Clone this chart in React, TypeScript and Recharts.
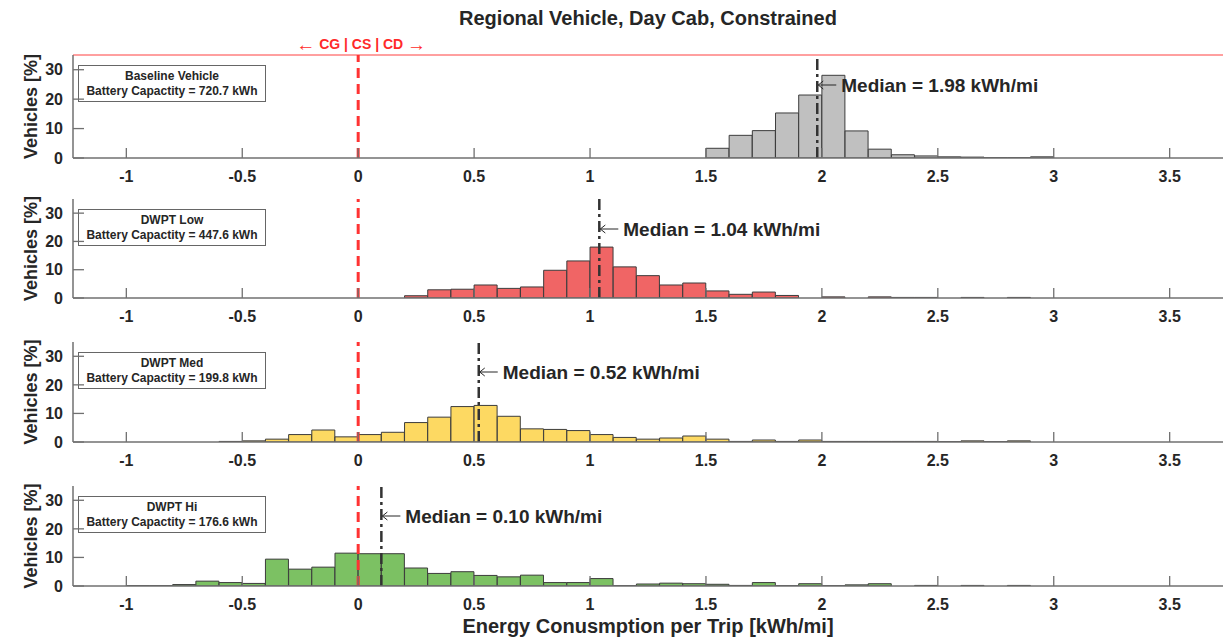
import React from "react";
import { Bar, ComposedChart, ReferenceLine, XAxis, YAxis } from "recharts";

const FONT = '"Liberation Sans", Arial, sans-serif';

// histogram bins, 0.1 kWh/mi wide, given by their centres
const BIN_CENTRES = [
  -0.95, -0.85, -0.75, -0.65, -0.55, -0.45, -0.35, -0.25, -0.15, -0.05,
  0.05, 0.15, 0.25, 0.35, 0.45, 0.55, 0.65, 0.75, 0.85, 0.95,
  1.05, 1.15, 1.25, 1.35, 1.45, 1.55, 1.65, 1.75, 1.85, 1.95,
  2.05, 2.15, 2.25, 2.35, 2.45, 2.55, 2.65, 2.75, 2.85, 2.95,
];

const BASELINE = [
  0, 0, 0, 0, 0, 0, 0, 0, 0, 0,
  0, 0, 0, 0, 0, 0, 0, 0, 0, 0,
  0, 0, 0, 0, 0, 3.3, 7.7, 9.3, 15.3, 21.4,
  28.1, 9.2, 3.0, 1.1, 0.7, 0.4, 0.3, 0.1, 0.1, 0.4,
];

const DWPT_LOW = [
  0, 0, 0, 0, 0, 0, 0, 0, 0, 0,
  0, 0, 0.8, 2.9, 3.1, 4.6, 3.4, 3.9, 9.8, 13.1,
  18.0, 11.0, 7.9, 4.6, 5.3, 2.5, 1.3, 2.1, 0.9, 0,
  0.4, 0, 0.4, 0.2, 0.2, 0, 0.2, 0, 0.2, 0,
];

const DWPT_MED = [
  0, 0, 0, 0, 0.2, 0.4, 1.0, 2.6, 4.2, 1.8,
  2.6, 3.4, 6.8, 8.7, 12.4, 12.8, 9.0, 4.6, 4.4, 4.0,
  2.6, 1.6, 1.0, 1.4, 2.1, 1.0, 0.2, 0.7, 0.2, 0.7,
  0.2, 0.2, 0.2, 0.2, 0.2, 0.1, 0.4, 0.1, 0.4, 0,
];

const DWPT_HI = [
  0.1, 0.1, 0.5, 1.7, 1.2, 0.9, 9.4, 5.9, 6.6, 11.5,
  11.3, 11.3, 6.3, 4.4, 5.0, 3.7, 3.2, 3.8, 1.2, 1.2,
  2.6, 0.1, 0.7, 1.0, 0.8, 0.6, 0.2, 1.2, 0.1, 0.8,
  0.1, 0.4, 0.8, 0, 0.2, 0, 0.2, 0, 0.2, 0,
];

const CASE_NAMES = ["Baseline Vehicle", "DWPT Low", "DWPT Med", "DWPT Hi"];
const CAPACITIES = [720.7, 447.6, 199.8, 176.6];
const MEDIANS = [1.98, 1.04, 0.52, 0.1];
const SERIES = [BASELINE, DWPT_LOW, DWPT_MED, DWPT_HI];
const COLORS = ["#c0c0c0", "#f06565", "#fdd962", "#7cc163"];

const X_TICKS = [-1, -0.5, 0, 0.5, 1, 1.5, 2, 2.5, 3, 3.5];
const Y_TICKS = [0, 10, 20, 30];

// plot area top/bottom of each panel, page pixels
const PANEL_Y = [
  [55, 158],
  [199, 298],
  [342, 442],
  [486, 586],
];

const MARGIN_TOP = 30;
const AXIS_COLOR = "#707070";
const TEXT_COLOR = "#262626";

function MedianLabel({ viewBox, value }: any) {
  const { x, y } = viewBox;
  const ay = y + 30;
  return (
    <g>
      <path
        d={`M${x + 1} ${ay} H${x + 19} M${x + 6} ${ay - 4} L${x + 1} ${ay} L${x + 6} ${ay + 4}`}
        stroke={TEXT_COLOR}
        strokeWidth={1}
        fill="none"
      />
      <text
        x={x + 24}
        y={ay}
        dominantBaseline="central"
        fill={TEXT_COLOR}
        fontFamily={FONT}
        fontSize={19}
        fontWeight="bold"
      >
        {`Median = ${value.toFixed(2)} kWh/mi`}
      </text>
    </g>
  );
}

function RangeLabel({ viewBox }: any) {
  const { x, y } = viewBox;
  return (
    <text x={x + 3} y={y - 11} textAnchor="middle" dominantBaseline="central" fill="#ff2a2a" fontFamily={FONT}>
      <tspan fontSize={19} fontWeight="normal">←</tspan>
      <tspan fontSize={14} fontWeight="bold">{" CG | CS | CD "}</tspan>
      <tspan fontSize={19} fontWeight="normal">→</tspan>
    </text>
  );
}

function YLabel({ viewBox }: any) {
  const cx = viewBox.x + 31;
  const cy = viewBox.y + viewBox.height / 2;
  return (
    <text
      x={cx}
      y={cy}
      transform={`rotate(-90 ${cx} ${cy})`}
      textAnchor="middle"
      dominantBaseline="central"
      fill={TEXT_COLOR}
      fontFamily={FONT}
      fontSize={18}
      fontWeight="bold"
    >
      Vehicles [%]
    </text>
  );
}

function Panel({ index }: { index: number }) {
  const [top, bottom] = PANEL_Y[index];
  const plotH = bottom - top;
  const data = BIN_CENTRES.map((x, i) => ({ x, v: SERIES[index][i] }));
  const tickStyle = { fill: TEXT_COLOR, fontSize: 16, fontWeight: "bold", fontFamily: FONT };

  return (
    <>
      <div
        style={{
          position: "absolute",
          left: 78,
          top: top + 10,
          width: 186,
          height: 35,
          border: "1.5px solid #666",
          background: "#fff",
          display: "flex",
          flexDirection: "column",
          justifyContent: "center",
          alignItems: "center",
          fontFamily: FONT,
          fontSize: 12,
          fontWeight: "bold",
          lineHeight: "14.5px",
          color: TEXT_COLOR,
        }}
      >
        <div>{CASE_NAMES[index]}</div>
        <div>{`Battery Capactity = ${CAPACITIES[index].toFixed(1)} kWh`}</div>
      </div>
      <div style={{ position: "absolute", left: 0, top: top - MARGIN_TOP }}>
        <ComposedChart
          width={1223}
          height={MARGIN_TOP + plotH + 30}
          data={data}
          margin={{ top: MARGIN_TOP, right: 0, bottom: 0, left: 0 }}
          barCategoryGap={0}
          barGap={0}
          style={{ overflow: "visible" }}
        >
          <XAxis
            type="number"
            dataKey="x"
            domain={[-1.23, 3.73]}
            ticks={X_TICKS}
            allowDataOverflow
            interval={0}
            height={30}
            axisLine={{ stroke: AXIS_COLOR, strokeWidth: 1.5 }}
            tickLine={{ stroke: AXIS_COLOR, strokeWidth: 1.3 }}
            tickSize={-10}
            tickMargin={23}
            tick={tickStyle}
          />
          <YAxis
            type="number"
            domain={[0, 35]}
            ticks={Y_TICKS}
            allowDataOverflow
            interval={0}
            width={73}
            axisLine={{ stroke: AXIS_COLOR, strokeWidth: 1.5 }}
            tickLine={{ stroke: AXIS_COLOR, strokeWidth: 1.3 }}
            tickSize={-11}
            tickMargin={21}
            tick={tickStyle}
            label={<YLabel />}
          />
          {index === 0 && <ReferenceLine y={35} stroke="#ff4040" strokeWidth={1} />}
          <Bar
            dataKey="v"
            fill={COLORS[index]}
            stroke="#3c3c3c"
            strokeWidth={1}
            isAnimationActive={false}
          />
          <ReferenceLine
            x={0}
            stroke="#ff3333"
            strokeWidth={3}
            strokeDasharray="10 6"
            label={index === 0 ? <RangeLabel /> : undefined}
          />
          <ReferenceLine
            x={MEDIANS[index]}
            stroke="#333"
            strokeWidth={2.5}
            strokeDasharray="11 4 3 4"
            label={<MedianLabel value={MEDIANS[index]} />}
          />
        </ComposedChart>
      </div>
    </>
  );
}

export default function App() {
  return (
    <div style={{ position: "relative", width: 1223, height: 638, background: "#fff", overflow: "hidden" }}>
      <style>{"body{margin:0}"}</style>
      <div
        style={{
          position: "absolute",
          left: 73,
          width: 1150,
          top: 7,
          lineHeight: "22px",
          textAlign: "center",
          fontFamily: FONT,
          fontSize: 20,
          fontWeight: "bold",
          color: TEXT_COLOR,
        }}
      >
        Regional Vehicle, Day Cab, Constrained
      </div>
      {[0, 1, 2, 3].map((i) => (
        <Panel key={i} index={i} />
      ))}
      <div
        style={{
          position: "absolute",
          left: 73,
          width: 1150,
          top: 615,
          lineHeight: "23px",
          textAlign: "center",
          fontFamily: FONT,
          fontSize: 20,
          fontWeight: "bold",
          color: TEXT_COLOR,
        }}
      >
        Energy Conusmption per Trip [kWh/mi]
      </div>
    </div>
  );
}
